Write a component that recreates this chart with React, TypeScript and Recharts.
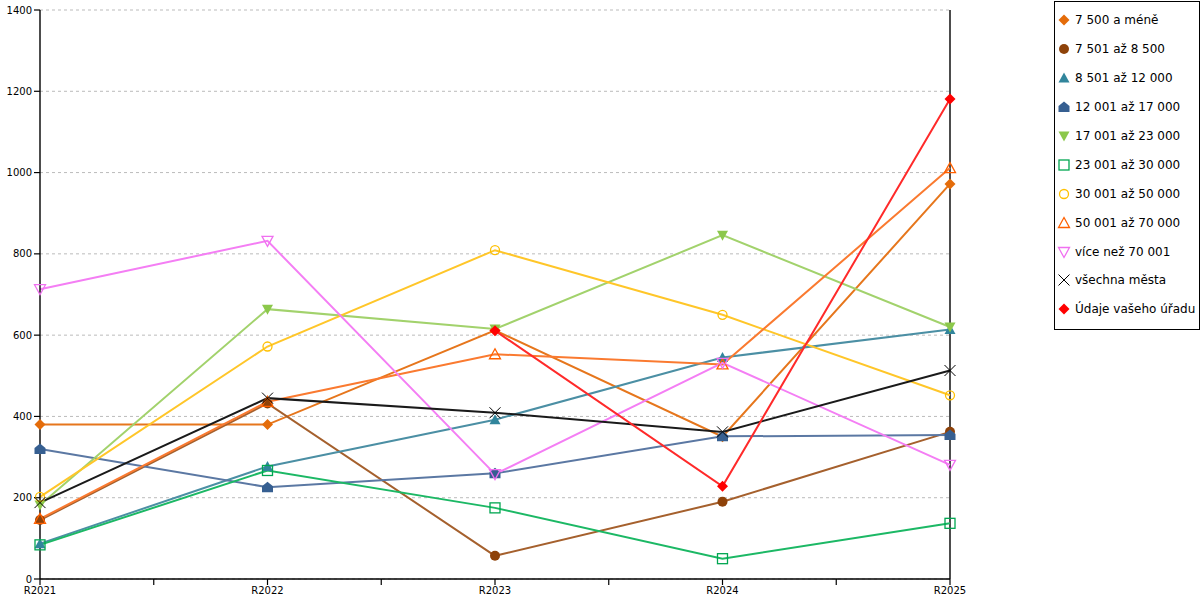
import React from 'react'
import { LineChart, Line, XAxis, YAxis, CartesianGrid, ReferenceLine } from 'recharts'

const years = ['R2021', 'R2022', 'R2023', 'R2024', 'R2025']
const yTicks = [0, 200, 400, 600, 800, 1000, 1200, 1400]
const xTicks = [0, 0.5, 1, 1.5, 2, 2.5, 3, 3.5, 4]

const s7500 = [380, 380, 612, 350, 972]
const s8500 = [145, 432, 57, 190, 362]
const s12000 = [87, 277, 392, 545, 614]
const s17000 = [320, 226, 260, 351, 354]
const s23000 = [182, 664, 615, 846, 620]
const s30000 = [84, 267, 175, 50, 137]
const s50000 = [202, 572, 809, 650, 452]
const s70000 = [148, 436, 553, 528, 1011]
const sOver70 = [713, 832, 258, 532, 281]
const sAll = [188, 445, 409, 362, 513]
const sOffice = [null, null, 611, 228, 1181]

const series = [
  { key: 's1', name: '7 500 a méně', values: s7500, shape: 'diamond', color: '#e46c0a', line: '#e6761c' },
  { key: 's2', name: '7 501 až 8 500', values: s8500, shape: 'circle', color: '#8e4209', line: '#a5602d' },
  { key: 's3', name: '8 501 až 12 000', values: s12000, shape: 'triangle', color: '#31859c', line: '#4b8fa4' },
  { key: 's4', name: '12 001 až 17 000', values: s17000, shape: 'house', color: '#365f91', line: '#5b78a3' },
  { key: 's5', name: '17 001 až 23 000', values: s23000, shape: 'down', color: '#8cc84b', line: '#a2d26c' },
  { key: 's6', name: '23 001 až 30 000', values: s30000, shape: 'square', color: '#00a651', line: '#1cb865' },
  { key: 's7', name: '30 001 až 50 000', values: s50000, shape: 'ring', color: '#ffc000', line: '#ffc629' },
  { key: 's8', name: '50 001 až 70 000', values: s70000, shape: 'hollowTri', color: '#ff6000', line: '#fa7a30' },
  { key: 's9', name: 'více než 70 001', values: sOver70, shape: 'hollowDown', color: '#f070f0', line: '#f47ef4' },
  { key: 's10', name: 'všechna města', values: sAll, shape: 'cross', color: '#000000', line: '#1a1a1a' },
  { key: 's11', name: 'Údaje vašeho úřadu', values: sOffice, shape: 'diamond', color: '#ff0000', line: '#ff2a2a' },
]

const data = years.map((y, idx) => {
  const row: any = { idx, year: y }
  series.forEach((s) => { row[s.key] = s.values[idx] })
  return row
})

const Marker = ({ shape, x, y, color }: { shape: string; x: number; y: number; color: string }) => {
  const r = 5.5
  switch (shape) {
    case 'diamond':
      return <polygon points={`${x},${y - r} ${x + r},${y} ${x},${y + r} ${x - r},${y}`} fill={color} />
    case 'circle':
      return <circle cx={x} cy={y} r={5} fill={color} />
    case 'triangle':
      return <polygon points={`${x},${y - r} ${x + r},${y + 4.5} ${x - r},${y + 4.5}`} fill={color} />
    case 'house':
      return <polygon points={`${x},${y - r} ${x + r},${y - 1} ${x + r},${y + 5} ${x - r},${y + 5} ${x - r},${y - 1}`} fill={color} />
    case 'down':
      return <polygon points={`${x - r},${y - 4.5} ${x + r},${y - 4.5} ${x},${y + r}`} fill={color} />
    case 'square':
      return <rect x={x - 5} y={y - 5} width={10} height={10} fill="none" stroke={color} strokeWidth={1.3} />
    case 'ring':
      return <circle cx={x} cy={y} r={4.5} fill="none" stroke={color} strokeWidth={1.3} />
    case 'hollowTri':
      return <polygon points={`${x},${y - r} ${x + r},${y + 4.5} ${x - r},${y + 4.5}`} fill="none" stroke={color} strokeWidth={1.3} />
    case 'hollowDown':
      return <polygon points={`${x - r},${y - 4.5} ${x + r},${y - 4.5} ${x},${y + r}`} fill="none" stroke={color} strokeWidth={1.3} />
    case 'cross':
      return (
        <g stroke={color} strokeWidth={1}>
          <line x1={x - 5.5} y1={y - 5.5} x2={x + 5.5} y2={y + 5.5} />
          <line x1={x - 5.5} y1={y + 5.5} x2={x + 5.5} y2={y - 5.5} />
        </g>
      )
    default:
      return null
  }
}

const makeDot = (shape: string, color: string) => (props: any) => {
  const { cx, cy, index, value } = props
  if (value == null || cx == null || cy == null) return <g key={`n-${index}`} />
  return (
    <g key={`d-${index}`}>
      <Marker shape={shape} x={cx} y={cy} color={color} />
    </g>
  )
}

const ChartLegend = () => (
  <div
    style={{
      position: 'absolute',
      left: 1054,
      top: 1,
      width: 144,
      height: 323,
      border: '1px solid #000',
      background: '#fff',
      paddingTop: 4,
      boxSizing: 'content-box',
      fontFamily: 'DejaVu Sans',
      fontSize: 12,
      color: '#000',
    }}
  >
    {series.map((s) => (
      <div key={s.key} style={{ height: 28.9, display: 'flex', alignItems: 'center', whiteSpace: 'nowrap' }}>
        <svg width={20} height={14} style={{ flex: 'none' }}>
          <Marker shape={s.shape} x={9} y={7} color={s.color} />
        </svg>
        <span>{s.name}</span>
      </div>
    ))}
  </div>
)

export default function App() {
  return (
    <div style={{ position: 'absolute', left: 0, top: 0, width: 1200, height: 600, background: '#fff' }}>
      <LineChart width={1200} height={600} data={data} margin={{ top: 10, right: 250, bottom: 0, left: 0 }}>
        <CartesianGrid vertical={false} stroke="#bbbbbb" strokeDasharray="3 3" />
        <XAxis
          dataKey="idx"
          type="number"
          domain={[0, 4]}
          ticks={xTicks}
          interval={0}
          height={21}
          tickSize={6}
          tickFormatter={(v: number) => (Number.isInteger(v) ? years[v] : '')}
          tick={{ fontSize: 10, fill: '#000', fontFamily: 'DejaVu Sans' }}
          axisLine={{ stroke: '#000', strokeWidth: 1.4 }}
          tickLine={{ stroke: '#000', strokeWidth: 1.2 }}
        />
        <YAxis
          domain={[0, 1400]}
          ticks={yTicks}
          width={40}
          tickSize={6}
          tick={{ fontSize: 10, fill: '#000', fontFamily: 'DejaVu Sans' }}
          axisLine={{ stroke: '#000', strokeWidth: 1.4 }}
          tickLine={{ stroke: '#000', strokeWidth: 1.2 }}
        />
        <ReferenceLine x={4} stroke="#000" strokeWidth={1.4} />
        {series.map((s) => (
          <Line
            key={s.key}
            dataKey={s.key}
            name={s.name}
            type="linear"
            stroke={s.line}
            strokeWidth={2}
            dot={makeDot(s.shape, s.color)}
            activeDot={false}
            isAnimationActive={false}
          />
        ))}
      </LineChart>
      <ChartLegend />
    </div>
  )
}
